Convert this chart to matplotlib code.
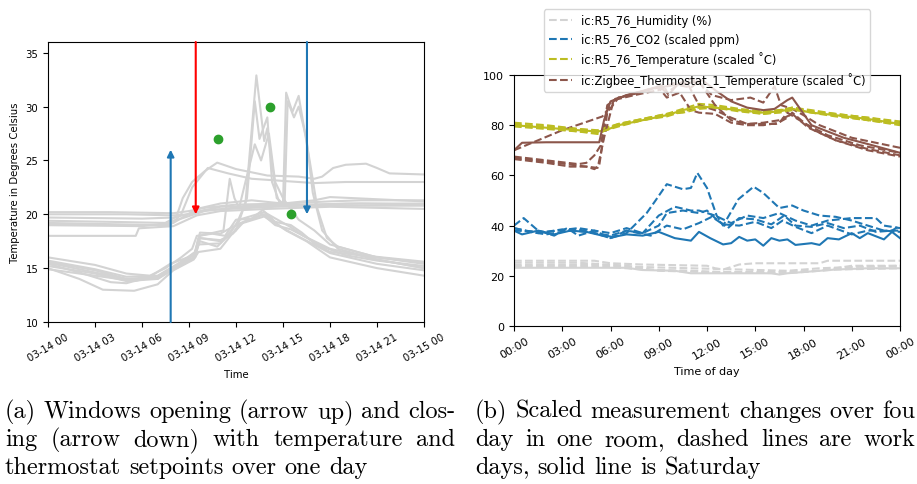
import datetime as dt
import matplotlib
matplotlib.use("Agg")
import matplotlib.pyplot as plt
import matplotlib.dates as mdates

# ---------- (a) room temperatures over one day ----------
room_hours = [
    [0, 4, 8, 9, 10, 12, 15, 18, 20, 24],
    [0, 5, 8, 9, 10, 13, 16, 19, 24],
    [0, 6, 8, 9.5, 11, 14, 17, 19, 24],
    [0, 4, 7.5, 8.2, 8.6, 9.2, 10.0, 10.8, 12, 14, 16, 17, 17.5, 18.2, 19, 20.3, 21, 21.8, 24],
    [0, 5, 7.8, 8.5, 9.2, 10.2, 11.5, 13, 15, 17, 19, 24],
    [0, 6, 8, 9.5, 11, 13, 15, 17, 18, 24],
    [0, 5.6, 5.8, 8, 9.5, 11, 14, 16, 18, 24],
    [0, 7, 8.5, 10, 13, 16, 20, 24],
    [0, 3, 5, 6.5, 7.5, 8.5, 9.2, 9.5, 10.5, 11.3, 12, 13, 13.7, 14.5, 15.5, 16.2, 17, 18, 20, 22, 24],
    [0, 3, 5, 7, 8, 9.3, 9.6, 11, 11.8, 12.5, 13.7, 14.5, 15.5, 16.3, 17.5, 19, 21, 24],
    [0, 2, 4, 5, 6.5, 7.8, 9.3, 9.6, 11, 12, 13.8, 15, 16.3, 18, 21, 24],
    [0, 2, 3.5, 5.5, 7, 8, 9.3, 9.6, 11, 12.3, 13.8, 15.2, 16.5, 18, 21, 24],
    [0, 3, 5.5, 7, 8.5, 9.4, 9.7, 10.8, 11.5, 12.2, 13.8, 15.5, 16.3, 18, 21, 24],
    [0, 3, 5, 7, 8.5, 9.4, 9.7, 11, 12, 12.6, 13.3, 13.8, 14.0, 14.6, 15.0, 15.2, 15.6, 16.0,
     16.7, 17.2, 17.8, 18.5, 21, 24],
    [0, 3, 5, 7, 8.5, 9.4, 9.7, 11, 12, 12.7, 13.2, 13.5, 14.0, 14.3, 14.8, 15.1, 15.3, 15.7,
     16.0, 16.5, 16.9, 17.5, 18.5, 21, 24],
    [0, 3, 5, 7, 8.5, 9.4, 9.7, 11.2, 11.6, 11.9, 12.2, 12.6, 13.2, 13.6, 14.1, 14.5, 15, 16,
     17, 18, 21, 24],
]
room_temps = [
    [20.2, 20.2, 20.1, 20.3, 20.6, 20.9, 21.0, 21.2, 21.3, 21.3],
    [20.0, 20.0, 19.9, 20.0, 20.4, 20.6, 20.8, 21.0, 21.0],
    [19.7, 19.6, 19.7, 20.2, 20.7, 20.8, 20.8, 20.8, 20.8],
    [19.4, 19.3, 19.2, 19.8, 21.5, 23.0, 24.0, 24.8, 24.2, 23.6, 23.5, 23.3, 23.5, 24.3, 24.6, 24.7, 24.3, 23.8, 23.7],
    [19.0, 19.0, 19.0, 20.0, 22.5, 24.3, 23.8, 23.3, 23.1, 22.9, 23.0, 23.0],
    [19.0, 18.9, 19.2, 20.5, 21.0, 21.3, 21.0, 21.3, 21.6, 21.2],
    [18.0, 18.0, 18.7, 18.9, 19.9, 20.3, 20.5, 20.6, 20.7, 20.5],
    [19.2, 19.0, 19.6, 20.3, 20.8, 20.9, 21.0, 20.9],
    [16.0, 15.3, 14.5, 14.3, 15.0, 16.0, 16.8, 18.0, 18.2, 18.0, 19.5, 19.6, 20.4, 19.3, 19.0, 18.3, 17.3, 16.5, 16.2, 15.9, 15.6],
    [15.6, 14.8, 14.0, 14.0, 15.0, 16.0, 17.8, 17.6, 18.2, 19.3, 20.0, 19.0, 18.6, 18.0, 17.0, 16.2, 15.7, 15.2],
    [15.4, 14.6, 13.7, 13.6, 14.2, 15.4, 16.2, 17.2, 17.3, 19.0, 19.8, 18.7, 17.7, 16.4, 15.4, 14.8],
    [15.0, 14.0, 13.0, 12.9, 13.5, 14.8, 15.8, 16.5, 16.8, 19.2, 20.0, 18.5, 17.5, 16.0, 15.0, 14.3],
    [14.9, 14.3, 13.8, 14.2, 15.5, 16.3, 17.5, 17.0, 18.0, 19.5, 20.2, 18.8, 18.0, 16.8, 15.8, 15.0],
    [15.7, 14.9, 14.2, 14.3, 15.6, 16.5, 18.3, 18.2, 19.0, 21.0, 32.9, 26.8, 28.0, 21.5, 21.0, 31.3, 29.5, 31.0,
     25.0, 20.5, 17.8, 17.0, 16.0, 15.4],
    [15.2, 14.5, 13.8, 14.0, 15.3, 16.0, 17.8, 17.5, 18.5, 21.5, 30.5, 27.0, 29.0, 23.0, 21.0, 20.8, 30.5, 29.0,
     30.0, 27.0, 22.0, 18.5, 16.8, 15.8, 15.0],
    [15.5, 14.6, 14.0, 14.2, 15.5, 16.5, 18.0, 18.5, 23.3, 21.5, 20.6, 23.0, 26.5, 25.0, 27.5, 23.0, 21.5, 19.5,
     18.5, 17.2, 16.0, 15.5],
]
open_hours = [7.83]
open_from, open_to = 10, 26
close_hours = [9.43, 16.53]
close_colors = ["red", "tab:blue"]
close_from, close_to = 36, 20
setpoint_hours = [10.83, 14.19, 15.53]
setpoint_temps = [27, 30, 20]

# ---------- (b) scaled measurements, four workdays + saturday ----------
hum_hours = [
    [0, 5, 6, 8, 12, 12.5, 13, 14, 15, 19, 19.5, 24],
    [0, 4, 7, 9, 12, 16, 19, 21, 24],
    [0, 5, 8, 11, 14, 17, 19, 21, 24],
    [0, 6, 8, 11, 13, 16.5, 18, 20, 24],
    [0, 7, 8, 10, 11, 16, 16.5, 17, 18, 20, 22, 24],
]
hum_vals = [
    [26, 26, 25, 24.5, 24, 23, 22.5, 24.5, 25, 25, 26, 26],
    [25.2, 25.2, 24, 22, 21.5, 21.5, 22, 24, 24],
    [24.3, 24.3, 23.5, 23, 22.5, 22, 23, 23.5, 24],
    [23.8, 23.5, 22.5, 22, 21.5, 21, 21.5, 22.5, 23],
    [23.2, 23.2, 22.3, 22, 21, 21, 20.5, 21, 21.5, 22.5, 23, 23],
]
co2_hours = [
    [0, 1, 2, 3, 4, 5, 6, 7, 8.25, 8.8, 9.5, 10.5, 11, 11.4, 12, 12.6, 13, 13.95, 14.9, 15.5,
     16.5, 17.3, 18, 19, 20, 21, 22, 23, 24],
    [0, 0.6, 1.5, 2.5, 3.3, 4, 5, 6, 7, 8, 9, 10, 11, 11.5, 12.5, 13.5, 14.5, 15.5, 16.5, 17.5,
     18.5, 19.5, 21, 22.5, 23, 24],
    [0, 2, 4, 6, 7, 8, 9, 9.5, 10.5, 11.5, 12, 12.5, 13.3, 14, 15, 16, 16.8, 17.5, 18.5, 19.5,
     20.5, 21.5, 22.5, 23.5, 24],
    [0, 1.5, 3, 4.5, 6, 7, 8.5, 9, 9.5, 10.5, 11.5, 12.3, 13, 14, 15, 16, 16.7, 17.5, 18.5, 19.5,
     21, 22, 23, 24],
    [0, 0.5, 1.5, 2.5, 3.5, 4.5, 5.5, 6.2, 7, 8, 9, 10, 11, 11.5, 12.2, 13, 13.5, 14, 14.5, 15,
     15.5, 16, 16.5, 17, 17.5, 18.5, 19, 19.5, 20.2, 21, 21.5, 22, 23, 23.5, 24],
]
co2_vals = [
    [39, 37.5, 36.5, 37.5, 38.5, 37, 35, 37, 45, 50, 56.5, 54.5, 55, 61, 55, 44, 40, 50.5, 55.5, 53,
     47, 48, 46, 44, 43.5, 42, 40, 38, 37.5],
    [40, 43, 38, 36, 39, 36, 38, 35, 38, 37, 44, 47.5, 46, 46, 44, 41, 44, 43, 45, 42,
     40, 42, 43, 43, 40, 39],
    [38, 37.5, 39, 37, 39, 37, 40, 45, 46, 45, 46, 43, 39, 43, 42.5, 40.5, 44, 40, 39.5, 41,
     39, 40, 37.5, 38, 40],
    [39, 37, 38.5, 37.5, 36, 38, 36, 38, 40, 38.5, 41, 43.5, 40.5, 40, 41.5, 39, 42, 39.5, 37, 40,
     36.5, 38, 38, 38],
    [38, 36.5, 38, 36.5, 38, 37.5, 36, 35.5, 36.5, 36, 37.5, 35, 34, 37.5, 35, 32.5, 33, 35.5, 34, 34.5,
     32, 35, 34, 34.5, 32.3, 33, 32.3, 35, 34.5, 37, 35, 37, 34.5, 37.5, 35],
]
temp_hours = [0, 2, 4, 5.2, 5.7, 6.5, 8, 9.5, 10.5, 11.5, 12.5, 14, 15.5, 16.5, 17.3, 18.5, 20, 22, 24]
temp_vals = [
    [81, 80, 78.5, 77.5, 78.5, 80.5, 82.5, 84.5, 86.5, 88.5, 88, 86.5, 85.5, 86, 87, 86, 84.5, 83, 81.5],
    [80.5, 79, 77.5, 76.5, 78, 80, 82, 84, 85.5, 87, 87.5, 86, 84.5, 85, 86, 85.5, 84, 82, 80],
    [79.5, 78.5, 77.5, 77, 78, 79.5, 82, 83.5, 85.5, 87.5, 87, 85.5, 84.5, 85.5, 87, 85.5, 84.5, 83, 81],
    [80, 79.5, 78.5, 78, 79, 80.5, 82.5, 84.5, 85, 86.5, 87, 86, 85, 86, 86.5, 85, 83.5, 82, 80.5],
    [80, 79, 78, 77.5, 78, 80, 82, 84, 86, 87.5, 87, 86, 85, 85.5, 86.5, 85, 84, 82.5, 80.5],
]
thermo_hours = [
    [0, 2, 4.5, 5.0, 5.3, 5.8, 6.5, 8, 9.3, 9.6, 10, 10.5, 11, 11.5, 12.3, 13.5, 14.7, 15.5, 16.2,
     16.6, 17.3, 18, 19, 21, 24],
    [0, 3, 5.5, 5.8, 6.3, 7.5, 9, 9.5, 10.2, 11, 11.5, 12.5, 13.5, 14.5, 15.5, 16.3, 17, 17.3,
     18.5, 20, 22, 24],
    [0, 2, 4, 4.5, 5.0, 5.4, 5.8, 6.5, 8, 9, 9.5, 10.3, 11, 11.5, 12.5, 13.5, 14.5, 15.5, 16.5,
     17, 18, 19.5, 21.5, 24],
    [0, 2, 3.5, 4.5, 5.2, 5.6, 6.2, 7.5, 9, 10, 10.8, 11.5, 12.5, 13.5, 14.5, 15.5, 16.5, 17.3,
     18.3, 20, 22, 24],
    [0, 0.5, 2, 5.3, 5.6, 6.0, 7.0, 8.5, 9.5, 10.5, 11.5, 11.7, 12.5, 13.5, 14.5, 15.5, 16.2,
     17.0, 17.3, 18.5, 20.5, 22, 24],
]
thermo_vals = [
    [67, 65.5, 63.5, 62.5, 64, 85, 91, 93.5, 96, 92, 95, 97.5, 98.5, 97, 92, 90, 91, 89, 95.5,
     88, 86.5, 84, 80, 75, 71],
    [70, 78, 83.5, 86, 90.5, 92.5, 95.5, 93, 96, 95, 97.5, 88, 82, 80.5, 80.5, 80.5, 83, 85,
     78.5, 74, 70, 67.5],
    [67.5, 66, 64.5, 65, 68, 72, 88, 91, 93.5, 95, 91, 93, 86, 85, 84.5, 81, 80, 80, 81,
     85, 81, 76, 72, 69],
    [66.5, 65, 63.5, 63.5, 63, 75, 90, 92, 94, 97, 96.5, 88, 86, 83, 80.5, 81, 82, 84.5,
     79, 74, 70.5, 68],
    [70, 73, 73.2, 73.2, 82, 89.5, 92, 94.5, 95.5, 96.5, 97.5, 98, 94, 89.5, 87, 86, 86.5,
     90, 91, 80, 75, 72.5, 69],
]
day_styles = ["--", "--", "--", "--", "-"]
labels = ["ic:R5_76_Humidity (%)", "ic:R5_76_CO2 (scaled ppm)",
          "ic:R5_76_Temperature (scaled ˚C)",
          "ic:Zigbee_Thermostat_1_Temperature (scaled ˚C)"]
colors = ["lightgrey", "tab:blue", "tab:olive", "tab:brown"]

# caption (b) is cut at the right edge in the source, keep what is visible
caption_a = ["(a) Windows opening (arrow up) and clos-",
             "ing (arrow down) with temperature and",
             "thermostat setpoints over one day"]
caption_b = ["(b) Scaled measurement changes over fou",
             "day in one room, dashed lines are work",
             "days, solid line is Saturday"]

W, H = 917, 485
fig = plt.figure(figsize=(W / 100, H / 100), dpi=100)

day_a = dt.datetime(2019, 3, 14)
def at(base, hours):
    return [base + dt.timedelta(hours=h) for h in hours]

ax1 = fig.add_axes([48 / W, 1 - 323 / H, 376 / W, 280 / H])
for hrs, vals in zip(room_hours, room_temps):
    ax1.plot(at(day_a, hrs), vals, color="lightgrey", lw=1.5)
for h in open_hours:
    t = at(day_a, [h])[0]
    ax1.annotate("", xy=(t, open_to), xytext=(t, open_from),
                 arrowprops=dict(arrowstyle="-|>", color="tab:blue", lw=1.5,
                                 shrinkA=0, shrinkB=0, mutation_scale=10))
for h, c in zip(close_hours, close_colors):
    t = at(day_a, [h])[0]
    ax1.annotate("", xy=(t, close_to), xytext=(t, close_from),
                 arrowprops=dict(arrowstyle="-|>", color=c, lw=1.5,
                                 shrinkA=0, shrinkB=0, mutation_scale=10))
ax1.plot(at(day_a, setpoint_hours), setpoint_temps, "o", color="tab:green", ms=6)
ax1.set_ylim(10, 36)
ax1.set_xlim(day_a, day_a + dt.timedelta(days=1))
ax1.xaxis.set_major_locator(mdates.HourLocator(byhour=range(0, 24, 3)))
ax1.xaxis.set_major_formatter(mdates.DateFormatter("%m-%d %H"))
ax1.tick_params(labelsize=7.3)
plt.setp(ax1.get_xticklabels(), rotation=30)
ax1.set_xlabel("Time", fontsize=7.3)
ax1.set_ylabel("Temperature in Degrees Celsius", fontsize=7.3)

day_b = dt.datetime(2019, 3, 11)
ax2 = fig.add_axes([514 / W, 1 - 327 / H, 386 / W, 251 / H])
for d in range(5):
    ls = day_styles[d]
    lab = (lambda i: labels[i] if d == 0 else None)
    ax2.plot(at(day_b, hum_hours[d]), hum_vals[d], ls, color=colors[0], lw=1.5, label=lab(0))
    ax2.plot(at(day_b, co2_hours[d]), co2_vals[d], ls, color=colors[1], lw=1.5, label=lab(1))
    ax2.plot(at(day_b, temp_hours), temp_vals[d], ls, color=colors[2], lw=1.5, label=lab(2))
    ax2.plot(at(day_b, thermo_hours[d]), thermo_vals[d], ls, color=colors[3], lw=1.5, label=lab(3))
ax2.set_ylim(0, 100)
ax2.set_xlim(day_b, day_b + dt.timedelta(days=1))
ax2.xaxis.set_major_locator(mdates.HourLocator(byhour=range(0, 24, 3)))
ax2.xaxis.set_major_formatter(mdates.DateFormatter("%H:%M"))
ax2.tick_params(labelsize=8)
plt.setp(ax2.get_xticklabels(), rotation=30)
ax2.set_xlabel("Time of day", fontsize=8)
ax2.legend(loc="upper center", bbox_to_anchor=(0.5, 1.285), fontsize=8.3)

# captions, justified like the LaTeX source
renderer = fig.canvas.get_renderer()
cap_font = dict(family="cmr10", fontsize=17.5, va="baseline")

def put_line(text, x0, base, width, justify):
    words = text.split()
    objs = [fig.text(0, 1 - base / H, w, **cap_font) for w in words]
    widths = [o.get_window_extent(renderer).width for o in objs]
    if justify:
        gap = (width - sum(widths)) / (len(words) - 1)
    else:
        gap = 0.333 * cap_font["fontsize"] * 100 / 72
    x = x0
    for o, w in zip(objs, widths):
        o.set_x(x / W)
        x += w + gap

baselines = [418, 446, 474]
for i, line in enumerate(caption_a):
    put_line(line, 5, baselines[i], 450, i < 2)
for i, line in enumerate(caption_b):
    put_line(line, 475, baselines[i], 440, i < 2)

fig.savefig("out.png", dpi=100)
